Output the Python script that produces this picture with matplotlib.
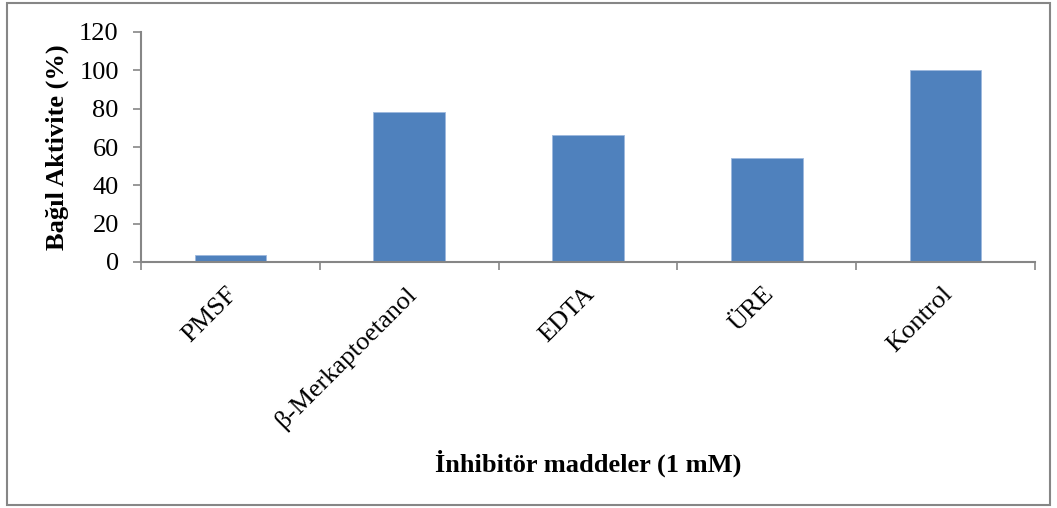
import matplotlib
matplotlib.use("Agg")
import matplotlib.pyplot as plt
import numpy as np
from matplotlib.patches import Rectangle

categories = ["PMSF", "β-Merkaptoetanol", "EDTA", "ÜRE", "Kontrol"]
activity = [3.7, 78.3, 66.5, 54.5, 100.0]
yticks = [0, 20, 40, 60, 80, 100, 120]

plt.rcParams["font.family"] = ["Liberation Serif", "DejaVu Serif"]

fig = plt.figure(figsize=(10.57, 5.08), dpi=100)
ax = fig.add_axes([141 / 1057, 1 - 262 / 508, (1035 - 141) / 1057, (262 - 32) / 508])

x = np.arange(len(categories))
ax.bar(x, activity, width=0.4, color="#4F81BD", edgecolor="#9DB9DD", linewidth=0.6, zorder=2)

ax.set_xlim(-0.5, len(categories) - 0.5)
ax.set_ylim(0, 120)
ax.set_yticks(yticks)
ax.set_yticklabels([str(t) for t in yticks], fontsize=19)
ax.tick_params(axis="y", direction="out", length=6, width=1.2, color="#868686", pad=10)

# category ticks sit between the bars
ax.set_xticks(np.arange(-0.5, len(categories), 1.0))
ax.set_xticklabels([])
ax.tick_params(axis="x", direction="out", length=6, width=1.2, color="#868686")
for i, name in enumerate(categories):
    ax.annotate(name, xy=(i, 0), xycoords=("data", "axes fraction"),
                xytext=(-3, -15), textcoords="offset points",
                rotation=45, ha="right", va="top", fontsize=19,
                rotation_mode="anchor")

for side in ("top", "right"):
    ax.spines[side].set_visible(False)
for side in ("left", "bottom"):
    ax.spines[side].set_color("#868686")
    ax.spines[side].set_linewidth(1.5)

ax.set_ylabel("Bağıl Aktivite (%)", fontsize=19, fontweight="bold", labelpad=7)
fig.text(588 / 1057, 1 - 463 / 508, "İnhibitör maddeler (1 mM)", ha="center", va="center",
         fontsize=19, fontweight="bold")

# chart frame
fig.patches.append(Rectangle((7 / 1057, 1 - 505 / 508), 1043 / 1057, 502 / 508,
                             transform=fig.transFigure, fill=False,
                             edgecolor="#868686", linewidth=1.5))

fig.savefig("out.png", dpi=100)
